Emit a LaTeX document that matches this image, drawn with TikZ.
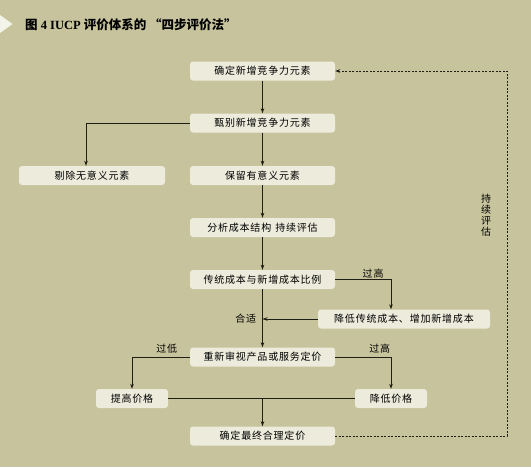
\documentclass[tikz,border=0pt]{standalone}
\usepackage{fontspec}
\setmainfont{Liberation Serif}
\newfontfamily\cjk[LetterSpace=8]{Noto Sans CJK SC}
\newfontfamily\cjktitle{Noto Sans CJK SC}
\usetikzlibrary{arrows.meta}
\definecolor{paper}{HTML}{C7C39D}
\definecolor{boxfill}{HTML}{ECEBDC}
\definecolor{ink}{HTML}{1E1E14}

\begin{document}
\begin{tikzpicture}[x=1pt,y=-1pt,>={Stealth[length=5pt,width=3.5pt]},
  stepbox/.style={fill=boxfill,rounded corners=3pt,minimum width=145pt,
    minimum height=19pt,inner sep=0pt,font=\cjk\fontsize{10}{12}\selectfont},
  flow/.style={draw=ink,line width=0.8pt},
  loopline/.style={draw=ink,line width=0.8pt,dash pattern=on 2pt off 1.5pt},
  tag/.style={font=\cjk\fontsize{10}{12}\selectfont,inner sep=1pt}]
  % background and heading
  \fill[paper] (0,0) rectangle (531,467);
  \fill[boxfill!60!white] (0,15)--(12.5,24)--(0,33)--cycle;
  \node[anchor=west,inner sep=0pt,font=\fontsize{12.5}{14}\selectfont\bfseries] (title) at (25,25)
    {{\cjktitle 图} 4 IUCP {\cjktitle 评价体系的 “四步评价法”}};

  % steps
  \node[stepbox] (find)   at (262.5,71)  {确定新增竞争力元素};
  \node[stepbox] (sift)   at (262.5,123) {甄别新增竞争力元素};
  \node[stepbox,minimum width=146pt] (drop) at (92,175.5) {剔除无意义元素};
  \node[stepbox] (keep)   at (262.5,175.5) {保留有意义元素};
  \node[stepbox] (cost)   at (262.5,227.5) {分析成本结构\hspace{4pt}持续评估};
  \node[stepbox] (ratio)  at (262.5,279.5) {传统成本与新增成本比例};
  \node[stepbox,minimum width=172pt] (adjust) at (404,319) {降低传统成本、增加新增成本};
  \node[stepbox] (review) at (262.5,357) {重新审视产品或服务定价};
  \node[stepbox,minimum width=72pt] (raise) at (132,398.5) {提高价格};
  \node[stepbox,minimum width=72pt] (lower) at (391,398.5) {降低价格};
  \node[stepbox] (final)  at (262.5,436) {确定最终合理定价};
  \coordinate (back) at (507,436);

  % connectors
  \draw[flow,->] (find) -- (sift);
  \draw[flow,->] (sift) -- (keep);
  \draw[flow,->] (sift.west) -| ([xshift=-6pt]drop.north);
  \draw[flow,->] (keep) -- (cost);
  \draw[flow,->] (cost) -- (ratio);
  \draw[flow,->] (ratio.east) -| ([xshift=-13pt]adjust.north)
    node[tag,pos=0.34,above] {过高};
  \draw[flow,->] (adjust.west) -- (adjust.west -| ratio.south)
    node[tag,left=5pt] {合适};
  \draw[flow,->] (ratio) -- (review);
  \draw[flow,->] (review.west) -| (raise.north)
    node[tag,pos=0.2,above=2pt] {过低};
  \draw[flow,->] (review.east) -| (lower.north)
    node[tag,pos=0.4,above=2pt] {过高};
  \draw[flow] (raise) -- (lower);
  \draw[flow,->] (raise.east -| final.north) -- (final);
  \draw[loopline,->] (final.east) -- (back) |- (find.east);
  \node[tag,align=center,font=\cjk\fontsize{10}{11}\selectfont] (again) at (486,215)
    {持\\续\\评\\估};
\end{tikzpicture}
\end{document}
